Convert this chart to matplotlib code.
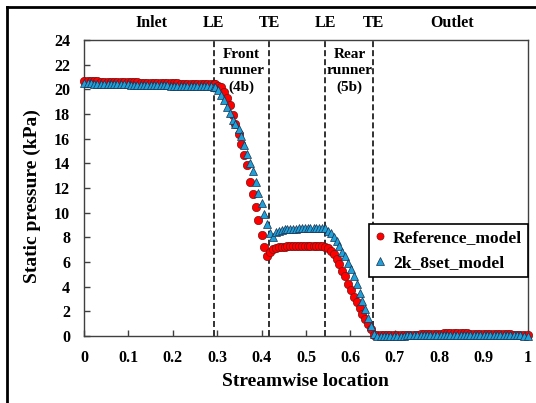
import numpy as np
import matplotlib
matplotlib.use('Agg')
import matplotlib.pyplot as plt
from matplotlib.lines import Line2D

plt.rcParams['font.family'] = 'Liberation Serif'
plt.rcParams['font.weight'] = 'bold'
plt.rcParams['lines.scale_dashes'] = False

# streamwise stations, split by zone
inlet_x = [0.000, 0.008, 0.015, 0.023, 0.030, 0.038, 0.045, 0.053, 0.060, 0.068,
           0.075, 0.083, 0.090, 0.098, 0.105, 0.113, 0.120, 0.128, 0.135, 0.143,
           0.150, 0.158, 0.165, 0.173, 0.180, 0.188, 0.195, 0.203, 0.210, 0.218,
           0.225, 0.233, 0.240, 0.248, 0.255, 0.263, 0.270, 0.278, 0.285, 0.293]
front_x = [0.296, 0.302, 0.309, 0.315, 0.322, 0.328, 0.335, 0.341, 0.348, 0.354,
           0.361, 0.367, 0.374, 0.380, 0.387, 0.393, 0.400, 0.406, 0.413, 0.419]
gap_x = [0.426, 0.432, 0.439, 0.445, 0.452, 0.458, 0.465, 0.471, 0.478, 0.484,
         0.491, 0.497, 0.504, 0.510, 0.517, 0.523, 0.530, 0.536, 0.543]
rear_x = [0.549, 0.556, 0.562, 0.569, 0.575, 0.582, 0.588, 0.595, 0.601, 0.608,
          0.614, 0.621, 0.627, 0.634, 0.640, 0.647, 0.653]
outlet_x = [0.660, 0.668, 0.675, 0.683, 0.690, 0.698, 0.705, 0.713, 0.720, 0.728,
            0.735, 0.743, 0.750, 0.758, 0.765, 0.773, 0.780, 0.788, 0.795, 0.803,
            0.810, 0.818, 0.825, 0.833, 0.840, 0.848, 0.855, 0.863, 0.870, 0.878,
            0.885, 0.893, 0.900, 0.908, 0.915, 0.923, 0.930, 0.938, 0.945, 0.953,
            0.960, 0.968, 0.975, 0.983, 0.990, 1.000]

# Reference_model static pressure (kPa)
ref_inlet = [20.68, 20.66, 20.66, 20.65, 20.64, 20.63, 20.63, 20.62, 20.61, 20.60,
             20.60, 20.59, 20.58, 20.58, 20.57, 20.56, 20.56, 20.55, 20.54, 20.54,
             20.53, 20.52, 20.52, 20.51, 20.50, 20.50, 20.49, 20.48, 20.48, 20.47,
             20.46, 20.46, 20.45, 20.45, 20.44, 20.44, 20.43, 20.43, 20.42, 20.42]
ref_front = [20.40, 20.30, 20.20, 19.80, 19.30, 18.70, 17.90, 17.20, 16.40, 15.60,
             14.70, 13.90, 12.50, 11.50, 10.50, 9.40, 8.20, 7.20, 6.50, 6.85]
ref_gap = [7.05, 7.12, 7.18, 7.22, 7.25, 7.27, 7.28, 7.30, 7.30, 7.31,
           7.31, 7.32, 7.32, 7.32, 7.33, 7.33, 7.32, 7.30, 7.24]
ref_rear = [7.12, 6.92, 6.62, 6.25, 5.85, 5.30, 4.85, 4.20, 3.70, 3.13,
            2.75, 2.24, 1.78, 1.40, 1.00, 0.55, 0.10]
ref_outlet = [0.05, 0.06, 0.07, 0.07, 0.08, 0.08, 0.09, 0.09, 0.10, 0.10,
              0.11, 0.12, 0.12, 0.13, 0.14, 0.15, 0.17, 0.18, 0.19, 0.20,
              0.21, 0.22, 0.23, 0.24, 0.24, 0.23, 0.22, 0.21, 0.20, 0.19,
              0.18, 0.17, 0.17, 0.16, 0.16, 0.15, 0.15, 0.14, 0.14, 0.13,
              0.13, 0.12, 0.12, 0.11, 0.10, 0.08]

# 2k_8set_model static pressure (kPa)
k8_inlet = [20.50, 20.49, 20.48, 20.47, 20.47, 20.46, 20.45, 20.44, 20.44, 20.43,
            20.42, 20.41, 20.41, 20.40, 20.39, 20.38, 20.38, 20.37, 20.36, 20.36,
            20.35, 20.34, 20.34, 20.33, 20.32, 20.32, 20.31, 20.30, 20.30, 20.29,
            20.28, 20.28, 20.27, 20.27, 20.26, 20.26, 20.25, 20.25, 20.24, 20.22]
k8_front = [20.20, 19.95, 19.55, 19.10, 18.55, 18.05, 17.55, 17.20, 16.80, 16.20,
            15.50, 14.75, 14.05, 13.35, 12.45, 11.60, 10.75, 9.90, 9.05, 8.35]
k8_gap = [8.05, 8.40, 8.52, 8.60, 8.64, 8.67, 8.69, 8.70, 8.71, 8.72,
          8.72, 8.73, 8.73, 8.74, 8.74, 8.75, 8.75, 8.74, 8.72]
k8_rear = [8.52, 8.33, 8.05, 7.70, 7.30, 6.80, 6.45, 5.90, 5.40, 4.85,
           4.20, 3.50, 2.85, 2.20, 1.50, 0.81, 0.20]
k8_outlet = [0.02, 0.03, 0.03, 0.03, 0.04, 0.04, 0.04, 0.04, 0.04, 0.05,
             0.05, 0.05, 0.05, 0.05, 0.05, 0.06, 0.06, 0.06, 0.06, 0.06,
             0.06, 0.06, 0.07, 0.07, 0.07, 0.07, 0.07, 0.07, 0.07, 0.07,
             0.07, 0.07, 0.06, 0.06, 0.06, 0.06, 0.06, 0.06, 0.06, 0.05,
             0.05, 0.05, 0.05, 0.05, 0.04, 0.04]

blade_edges = [0.293, 0.417, 0.543, 0.652]
zone_labels = ['Inlet', 'LE', 'TE', 'LE', 'TE', 'Outlet']
zone_label_x = [0.151, 0.291, 0.417, 0.543, 0.653, 0.829]

x = np.concatenate([inlet_x, front_x, gap_x, rear_x, outlet_x])
ref_p = np.concatenate([ref_inlet, ref_front, ref_gap, ref_rear, ref_outlet])
k8_p = np.concatenate([k8_inlet, k8_front, k8_gap, k8_rear, k8_outlet])

fig = plt.figure(figsize=(5.36, 4.03), dpi=100)
ax = fig.add_axes([84 / 536, 1 - 336 / 403, 444 / 536, 296 / 403])

for xe in blade_edges:
    ax.axvline(xe, color='#222222', lw=1.3, dashes=(4.3, 2.2), zorder=1)

ax.plot(x, ref_p, 'o', color='#ff0000', mec='#7a1010', mew=0.5, ms=6,
        label='Reference_model', clip_on=False, zorder=3)
ax.plot(x, k8_p, '^', color='#1ea0d8', mec='#1a3050', mew=0.5, ms=6.2,
        label='2k_8set_model', clip_on=False, zorder=4)

ax.set_xlim(0, 1)
ax.set_ylim(0, 24)
ax.set_xticks(np.arange(0, 1.01, 0.1))
ax.set_xticklabels(['0', '0.1', '0.2', '0.3', '0.4', '0.5', '0.6', '0.7', '0.8', '0.9', '1'])
ax.set_yticks(np.arange(0, 25, 2))
ax.tick_params(direction='in', length=4, width=1, color='#404040', labelsize=11.5, pad=10)
for s in ax.spines.values():
    s.set_color('#404040')
    s.set_linewidth(1)

for lab, lx in zip(zone_labels, zone_label_x):
    ax.text(lx, 25.35, lab, ha='center', va='center', fontsize=11.5, fontweight='bold', clip_on=False)

ax.text(0.355, 21.5, 'Front\nrunner\n(4b)', ha='center', va='center', fontsize=11,
        fontweight='bold', linespacing=1.3)
ax.text(0.598, 21.5, 'Rear\nrunner\n(5b)', ha='center', va='center', fontsize=11,
        fontweight='bold', linespacing=1.3)

fig.text(305 / 536, 1 - 382 / 403, 'Streamwise location', ha='center', va='center',
         fontsize=14, fontweight='bold')
fig.text(32 / 536, 1 - 196 / 403, 'Static pressure (kPa)', ha='center', va='center',
         rotation=90, fontsize=14, fontweight='bold')

leg = ax.legend(loc='upper right', bbox_to_anchor=(1.0, 0.378), borderaxespad=0,
                fancybox=False, edgecolor='black', fontsize=12.5, handlelength=0.5,
                handletextpad=0.5, borderpad=0.35, labelspacing=0.5, markerscale=0.85,
                framealpha=1)
leg.get_frame().set_linewidth(1.2)

# figure frame (left and top edges visible)
fig.add_artist(Line2D([7 / 536, 7 / 536], [0, 1 - 7 / 403], transform=fig.transFigure,
                      color='black', lw=2))
fig.add_artist(Line2D([7 / 536, 1], [1 - 7 / 403, 1 - 7 / 403], transform=fig.transFigure,
                      color='black', lw=2))

fig.savefig('out.png', dpi=100)
